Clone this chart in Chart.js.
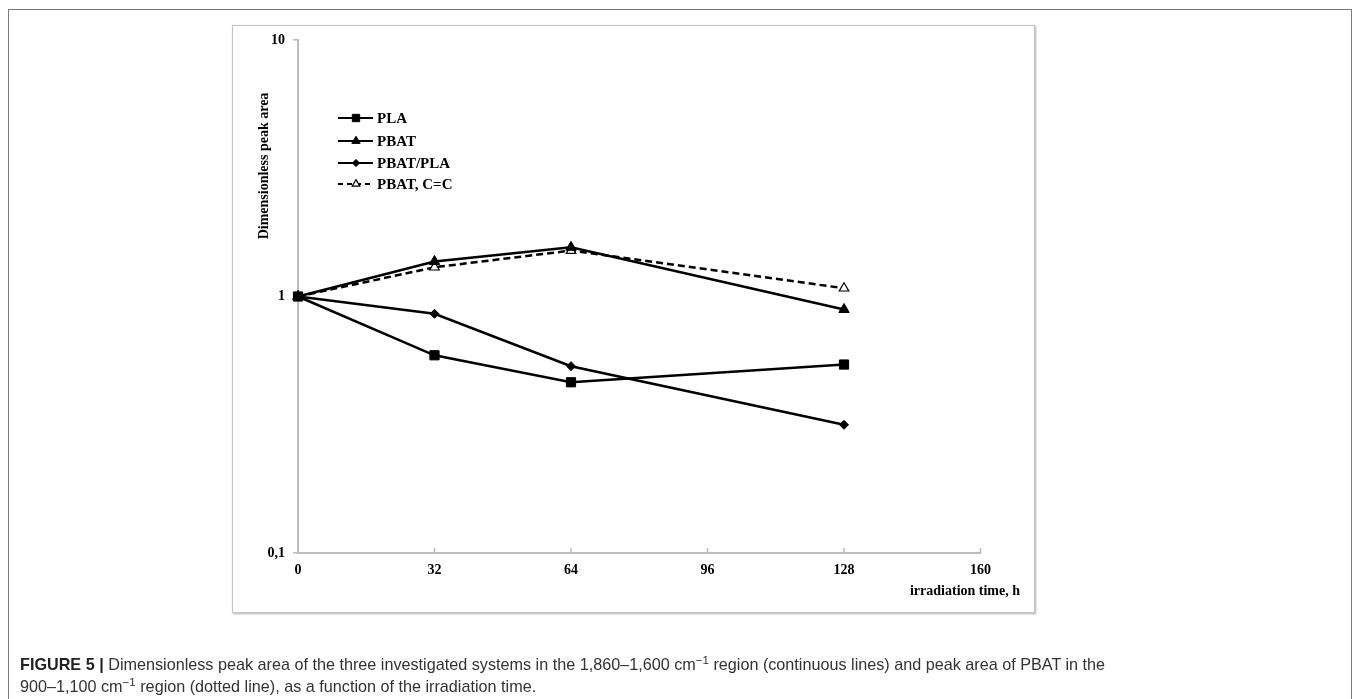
<!DOCTYPE html>
<html>
<head>
<meta charset="utf-8">
<script src="https://cdn.jsdelivr.net/npm/chart.js@4.4.1/dist/chart.umd.min.js"></script>
<style>
  html, body { margin: 0; padding: 0; background: #fff; }
  body { width: 1357px; height: 699px; overflow: hidden; position: relative; }
  #outer { position: absolute; left: 8px; top: 9px; width: 1344px; height: 740px; border: 1.5px solid #7a7a7a; box-sizing: border-box; }
  #inner { position: absolute; left: 232px; top: 25px; width: 803px; height: 588px; border: 1px solid #c4c4c4; box-shadow: 1px 1px 2px #b0b0b0; box-sizing: border-box; }
  #wrap { position: absolute; left: 0; top: 0; width: 1357px; height: 699px; }
  #cap { position: absolute; left: 20px; top: 653px; font-family: "Liberation Sans", Arial, sans-serif; font-size: 16.2px; line-height: 22px; color: #333; white-space: nowrap; }
  #cap b { font-weight: bold; color: #222; }
  #cap sup { font-size: 11.5px; line-height: 0; vertical-align: 6px; }
</style>
</head>
<body>
<div id="outer"></div>
<div id="inner"></div>
<div id="wrap"><canvas id="c" width="1357" height="699"></canvas></div>
<div id="cap"><b>FIGURE 5 |</b> Dimensionless peak area of the three investigated systems in the 1,860–1,600 cm<sup>−1</sup> region (continuous lines) and peak area of PBAT in the<br>900–1,100 cm<sup>−1</sup> region (dotted line), as a function of the irradiation time.</div>
<script>
// ---- data ----
const times = [0, 32, 64, 128];
const seriesNames = ["PLA", "PBAT", "PBAT/PLA", "PBAT, C=C"];
const pla = [1, 0.59, 0.463, 0.543];
const pbat = [1, 1.37, 1.555, 0.89];
const pbatPla = [1, 0.856, 0.535, 0.316];
const pbatCC = [1, 1.30, 1.51, 1.077];
const yTickValues = [0.1, 1, 10];
const yTickLabels = ["0,1", "1", "10"];
const xTickValues = [0, 32, 64, 96, 128, 160];
const xTitle = "irradiation time, h";
const yTitle = "Dimensionless peak area";

const toPts = arr => times.map((t, i) => ({ x: t, y: arr[i] }));
const serif = "'Liberation Serif', 'Times New Roman', serif";

const datasets = [
  { label: seriesNames[0], data: toPts(pla), pointStyle: 'rect', pointRadius: 6.5, backgroundColor: '#000', borderColor: '#000', borderWidth: 2.5, pointBorderWidth: 1 },
  { label: seriesNames[1], data: toPts(pbat), pointStyle: 'triangle', pointRadius: 6, backgroundColor: '#000', borderColor: '#000', borderWidth: 2.5, pointBorderWidth: 1 },
  { label: seriesNames[2], data: toPts(pbatPla), pointStyle: 'rectRot', pointRadius: 4.5, backgroundColor: '#000', borderColor: '#000', borderWidth: 2.5, pointBorderWidth: 1 },
  { label: seriesNames[3], data: toPts(pbatCC), pointStyle: 'triangle', pointRadius: 5.5, backgroundColor: '#fff', borderColor: '#000', borderWidth: 2.5, pointBorderWidth: 1.2, borderDash: [7, 4] }
];
datasets.forEach(d => { d.tension = 0; d.fill = false; d.clip = false; d.pointBackgroundColor = d.backgroundColor; d.pointBorderColor = '#000'; });

const decorPlugin = {
  id: 'decor',
  afterDraw(chart) {
    const ctx = chart.ctx;
    const xs = chart.scales.x, ys = chart.scales.y;
    ctx.save();
    // inward x tick marks
    ctx.strokeStyle = '#b8b8b8';
    ctx.lineWidth = 1.5;
    xTickValues.forEach(v => {
      if (v === 0) return;
      const px = xs.getPixelForValue(v);
      ctx.beginPath(); ctx.moveTo(px, ys.bottom); ctx.lineTo(px, ys.bottom - 5); ctx.stroke();
    });
    // axis titles
    ctx.fillStyle = '#000';
    ctx.font = "bold 14px " + serif;
    ctx.textAlign = 'center';
    ctx.textBaseline = 'middle';
    ctx.fillText(xTitle, 965, 591);
    ctx.save();
    ctx.translate(264, 166);
    ctx.rotate(-Math.PI / 2);
    ctx.fillText(yTitle, 0, 0);
    ctx.restore();
    // legend
    const rowsY = [118, 141, 163, 184];
    ctx.font = "bold 15px " + serif;
    ctx.textAlign = 'left';
    chart.data.datasets.forEach((d, i) => {
      const y = rowsY[i];
      ctx.save();
      ctx.strokeStyle = '#000';
      ctx.lineWidth = 2.2;
      ctx.setLineDash(d.borderDash ? [5, 4] : []);
      ctx.beginPath(); ctx.moveTo(338, y); ctx.lineTo(373, y); ctx.stroke();
      ctx.setLineDash([]);
      ctx.fillStyle = d.pointBackgroundColor;
      ctx.strokeStyle = '#000';
      ctx.lineWidth = d.pointBorderWidth;
      Chart.helpers.drawPoint(ctx, { pointStyle: d.pointStyle, radius: d.pointRadius * 0.8, rotation: 0, borderWidth: d.pointBorderWidth }, 356, y);
      ctx.restore();
      ctx.fillStyle = '#000';
      ctx.fillText(d.label, 377, y + 1);
    });
    ctx.restore();
  }
};

new Chart(document.getElementById('c'), {
  type: 'line',
  data: { datasets },
  options: {
    responsive: false,
    animation: false,
    events: [],
    layout: { padding: { left: 240, top: 40, right: 376.5, bottom: 116 } },
    plugins: { legend: { display: false }, tooltip: { enabled: false } },
    scales: {
      x: {
        type: 'linear', min: 0, max: 160,
        afterBuildTicks: s => { s.ticks = xTickValues.map(v => ({ value: v })); },
        afterFit: s => { s.height = 30; },
        ticks: { font: { family: serif, size: 14, weight: 'bold' }, color: '#000', padding: 9, maxRotation: 0 },
        grid: { drawOnChartArea: false, drawTicks: false },
        border: { color: '#bdbdbd', width: 2 }
      },
      y: {
        type: 'logarithmic', min: 0.1, max: 10,
        afterBuildTicks: s => { s.ticks = yTickValues.map(v => ({ value: v })); },
        afterFit: s => { s.width = 58; },
        ticks: { font: { family: serif, size: 14, weight: 'bold' }, color: '#000', padding: 8,
                 callback: (v, i) => yTickLabels[i] },
        grid: { drawOnChartArea: false, drawTicks: true, tickLength: 5, color: '#bdbdbd', lineWidth: 1.5 },
        border: { color: '#bdbdbd', width: 2 }
      }
    }
  },
  plugins: [decorPlugin]
});
</script>
</body>
</html>
